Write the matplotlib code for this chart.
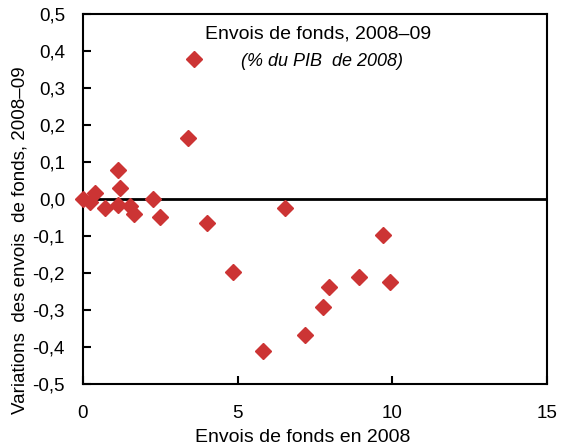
import matplotlib.pyplot as plt
from matplotlib.ticker import FuncFormatter
from matplotlib.lines import Line2D

plt.rcParams['font.family'] = ['Liberation Sans', 'DejaVu Sans']

# Envois de fonds en 2008 (% du PIB)
envois_2008 = [0.0, 0.23, 0.39, 0.71, 1.14, 1.18, 1.12, 1.52, 1.65, 2.27,
               2.49, 3.40, 4.02, 4.86, 5.81, 6.53, 7.18, 7.75, 7.96, 8.93,
               9.71, 9.93]
# Variations des envois de fonds, 2008-09
variations = [0.0, -0.007, 0.015, -0.025, 0.078, 0.029, -0.016, -0.018, -0.040, 0.0,
              -0.048, 0.164, -0.066, -0.196, -0.411, -0.025, -0.368, -0.291, -0.239, -0.21,
              -0.097, -0.225]

red = '#CC3434'
W, H = 562, 448

fig = plt.figure(figsize=(W / 100, H / 100), dpi=100)
ax = fig.add_axes([83 / W, 1 - 384 / H, 464 / W, 370 / H])

ax.axhline(0, color='black', lw=2, zorder=1)
ax.plot(envois_2008, variations, 'D', color=red, ms=8.5, mec=red, zorder=3, clip_on=False)

ax.set_xlim(0, 15)
ax.set_ylim(-0.5, 0.5)
ax.set_xticks([0, 5, 10, 15])
ax.set_yticks([-0.5 + 0.1 * i for i in range(11)])
ax.yaxis.set_major_formatter(FuncFormatter(lambda v, p: f"{v:.1f}".replace('.', ',').replace('-0,0', '0,0')))
ax.tick_params(direction='in', length=6, width=1.5, labelsize=13.5, colors='black')
ax.tick_params(axis='y', pad=13)
ax.tick_params(axis='x', pad=15)
for s in ax.spines.values():
    s.set_linewidth(1.5)

fig.text(303 / W, 1 - 437 / H, "Envois de fonds en 2008", fontsize=14,
         ha='center', va='center')
fig.text(20 / W, 1 - 240 / H, "Variations  des envois  de fonds, 2008–09", fontsize=13.5,
         rotation=90, ha='center', va='center')

# legend block
fig.text(205 / W, 1 - 34 / H, "Envois de fonds, 2008–09", fontsize=14,
         ha='left', va='center')
handle = Line2D([], [], marker='D', ls='none', color=red, ms=8.5)
fig.legend([handle], ["(% du PIB  de 2008)"], loc='center left',
           bbox_to_anchor=(183 / W, 1 - 61 / H), frameon=False,
           prop={'size': 13, 'style': 'italic'}, handlelength=1.2,
           handletextpad=2.0, borderpad=0, borderaxespad=0)

fig.savefig('out.png', dpi=100)
